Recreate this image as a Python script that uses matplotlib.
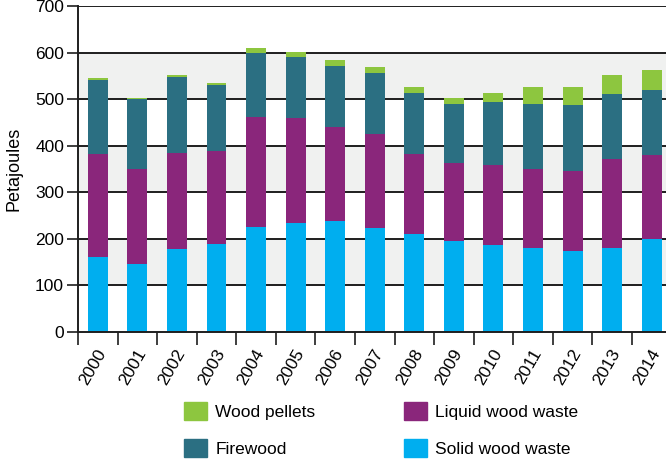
import numpy as np
import matplotlib
matplotlib.use("Agg")
import matplotlib.pyplot as plt
from matplotlib.patches import Patch

plt.rcParams['font.family'] = ['Liberation Sans', 'DejaVu Sans']

# data (petajoules)
years = ['2000', '2001', '2002', '2003', '2004', '2005', '2006', '2007',
         '2008', '2009', '2010', '2011', '2012', '2013', '2014']
solid_wood_waste = [160, 147, 179, 190, 226, 235, 239, 224, 211, 196, 186, 181, 173, 181, 199]
liquid_wood_waste = [223, 203, 205, 199, 235, 225, 202, 202, 172, 167, 173, 169, 173, 190, 181]
firewood = [158, 150, 164, 142, 138, 130, 130, 130, 131, 127, 135, 140, 142, 140, 140]
wood_pellets = [4, 2, 3, 4, 11, 11, 13, 13, 12, 13, 20, 36, 38, 41, 43]

c_solid = '#00AEEF'
c_liquid = '#8A267B'
c_fire = '#2B6F82'
c_pellet = '#8DC63F'

fig = plt.figure(figsize=(6.66, 4.65), dpi=100)
ax = fig.add_axes([78 / 666, 1 - 332 / 465, 1 - 78 / 666, 326 / 465])

x = np.arange(len(years))
w = 0.505
s = np.array(solid_wood_waste)
l = np.array(liquid_wood_waste)
f = np.array(firewood)
p = np.array(wood_pellets)

# alternating background bands
for lo in range(100, 700, 200):
    ax.axhspan(lo, lo + 100, color='#F0F1F0', zorder=0, lw=0)
for yv in range(100, 701, 100):
    ax.axhline(yv, color='#1e1e1e', lw=1.4, zorder=1)

ax.bar(x, s, w, color=c_solid, zorder=2)
ax.bar(x, l, w, bottom=s, color=c_liquid, zorder=2)
ax.bar(x, f, w, bottom=s + l, color=c_fire, zorder=2)
ax.bar(x, p, w, bottom=s + l + f, color=c_pellet, zorder=2)

ax.set_xlim(-0.5, 14.36)
ax.set_ylim(0, 700)
ax.set_yticks(range(0, 701, 100))
# tick marks sit between the bars, labels slightly right of the bar centres
ax.set_xticks(np.arange(-0.5, 14.0, 1.0))
ax.set_xticklabels([])
ax.set_xticks(x + 0.12, minor=True)
ax.set_xticklabels(years, minor=True, rotation=60, ha='right', va='center',
                   rotation_mode='anchor', fontsize=12.5)
ax.tick_params(axis='x', which='minor', length=0, pad=13)
ax.tick_params(axis='x', which='major', length=9, width=1.2, color='#1e1e1e', direction='out')
ax.tick_params(axis='y', length=8, width=1.2, color='#1e1e1e', labelsize=12.5, pad=2)

for sp in ['top', 'right']:
    ax.spines[sp].set_visible(False)
ax.spines['left'].set_linewidth(1.4)
ax.spines['bottom'].set_linewidth(1.4)
ax.spines['left'].set_color('#1e1e1e')
ax.spines['bottom'].set_color('#1e1e1e')

ax.set_ylabel('Petajoules', fontsize=13, labelpad=9)

handles = [Patch(color=c_pellet, label='Wood pellets'),
           Patch(color=c_fire, label='Firewood'),
           Patch(color=c_liquid, label='Liquid wood waste'),
           Patch(color=c_solid, label='Solid wood waste')]
fig.legend(handles=handles, ncol=2, frameon=False, loc='upper left',
           bbox_to_anchor=(184 / 666, 1 - 402 / 465), borderpad=0, borderaxespad=0,
           fontsize=12.5, handlelength=1.35, handleheight=1.2, handletextpad=0.45,
           labelspacing=1.13, columnspacing=5.1)

fig.savefig('out.png', dpi=100)
